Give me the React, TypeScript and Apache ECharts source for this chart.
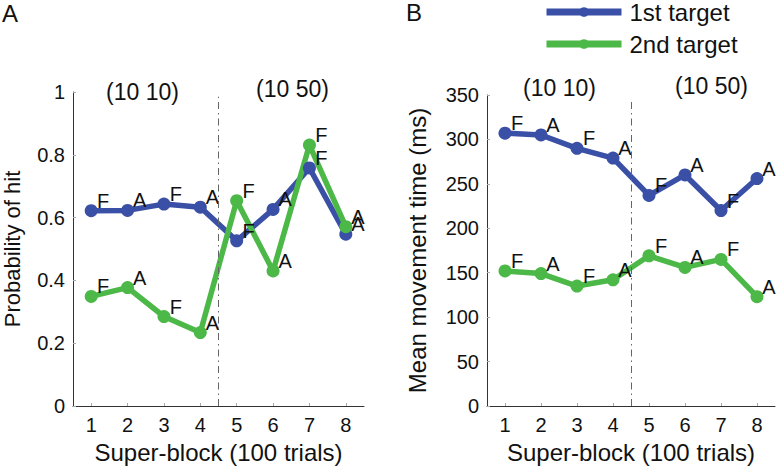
import React, { useEffect, useRef } from "react";
import * as echarts from "echarts";

const blocks = [1, 2, 3, 4, 5, 6, 7, 8];
const pointLabels = ["F", "A", "F", "A", "F", "A", "F", "A"];
const hitFirst = [0.622, 0.623, 0.643, 0.633, 0.526, 0.626, 0.758, 0.547];
const hitSecond = [0.349, 0.377, 0.285, 0.234, 0.654, 0.43, 0.831, 0.571];
const timeFirst = [307, 305, 290, 279, 237, 260, 220, 256];
const timeSecond = [152, 149, 135, 142, 169, 156, 165, 123];
const hitTicks = [0, 0.2, 0.4, 0.6, 0.8, 1];
const timeTicks = [0, 50, 100, 150, 200, 250, 300, 350];
const seriesNames = ["1st target", "2nd target"];

const BLUE = "#3a4fa6";
const GREEN = "#4cb848";
const FONT = "Liberation Sans, Arial, Helvetica, sans-serif";

export default function App() {
  const ref = useRef<HTMLDivElement>(null);
  useEffect(() => {
    if (!ref.current) return;
    const chart = echarts.init(ref.current, undefined, { renderer: "svg" });

    const xAxisBase = (gridIndex: number) => ({
      type: "value",
      gridIndex,
      min: 0.5,
      max: 8.5,
      name: "Super-block (100 trials)",
      nameLocation: "middle",
      nameGap: 34,
      nameTextStyle: { fontSize: 24, color: "#111", fontFamily: FONT },
      axisLine: { show: true, lineStyle: { color: "#333", width: 1 } },
      axisTick: { show: true, inside: true, length: 3, customValues: blocks, lineStyle: { color: "#aaa" } },
      axisLabel: { customValues: blocks, fontSize: 20, color: "#111", fontFamily: FONT, margin: 9 },
      splitLine: { show: false },
    });

    const yAxisBase = (
      gridIndex: number,
      max: number,
      interval: number,
      name: string,
      gap: number,
      nameSize: number,
      formatter: any
    ) => ({
      type: "value",
      gridIndex,
      min: 0,
      max,
      interval,
      name,
      nameLocation: "middle",
      nameGap: gap,
      nameTextStyle: { fontSize: nameSize, color: "#111", fontFamily: FONT },
      axisLine: { show: true, lineStyle: { color: "#333", width: 1 } },
      axisTick: { show: true, inside: true, length: 3, lineStyle: { color: "#aaa" } },
      axisLabel: { fontSize: 20, color: "#111", fontFamily: FONT, margin: 8, formatter },
      splitLine: { show: false },
    });

    const mkSeries = (name: string, color: string, values: number[], xi: number, yi: number, extra: any = {}) => ({
      type: "line",
      name,
      xAxisIndex: xi,
      yAxisIndex: yi,
      data: blocks.map((b, i) => [b, values[i]]),
      symbol: "circle",
      symbolSize: 13,
      lineStyle: { color, width: 5.5 },
      itemStyle: { color },
      label: {
        show: true,
        position: "inside",
        offset: [12, -10],
        fontSize: 20,
        color: "#111",
        fontFamily: FONT,
        formatter: (p: any) => pointLabels[p.dataIndex],
      },
      z: 3,
      ...extra,
    });

    const divider = (top: number) => ({
      silent: true,
      symbol: "none",
      label: { show: false },
      lineStyle: { color: "#666", width: 1, type: [7, 4, 1.5, 4] },
      data: [[{ coord: [4.5, 0] }, { coord: [4.5, top] }]],
    });

    const txt = (left: number, top: number, text: string, size: number) => ({
      type: "text",
      left,
      top,
      style: { text, fontSize: size, fill: "#111", fontFamily: FONT },
    });

    chart.setOption({
      animation: false,
      backgroundColor: "#fff",
      textStyle: { fontFamily: FONT },
      grid: [
        { left: 70, top: 92, width: 294, height: 318 },
        { left: 487, top: 95, width: 288, height: 316 },
      ],
      xAxis: [xAxisBase(0), xAxisBase(1)],
      yAxis: [
        yAxisBase(0, 1, 0.2, "Probability of hit", 50, 22, (v: number) =>
          hitTicks.includes(+v.toFixed(1)) ? String(+v.toFixed(1)) : ""
        ),
        yAxisBase(1, 350, 50, "Mean movement time (ms)", 58, 24, (v: number) =>
          timeTicks.includes(v) ? String(v) : ""
        ),
      ],
      legend: {
        left: 543,
        top: 0,
        padding: 0,
        orient: "vertical",
        itemWidth: 75,
        itemHeight: 12,
        itemGap: 8,
        lineStyle: { width: 7 },
        data: seriesNames,
        textStyle: { fontSize: 24, color: "#111", fontFamily: FONT, padding: [0, 0, 0, 3] },
      },
      series: [
        mkSeries(seriesNames[0], BLUE, hitFirst, 0, 0, { markLine: divider(0.985) }),
        mkSeries(seriesNames[1], GREEN, hitSecond, 0, 0),
        mkSeries(seriesNames[0], BLUE, timeFirst, 1, 1, { markLine: divider(346) }),
        mkSeries(seriesNames[1], GREEN, timeSecond, 1, 1),
      ],
      graphic: [
        txt(2, 1, "A", 24),
        txt(406, 0, "B", 24),
        txt(106, 80, "(10 10)", 23),
        txt(256, 77, "(10 50)", 23),
        txt(523, 76, "(10 10)", 23),
        txt(675, 74, "(10 50)", 23),
      ],
    });
    return () => chart.dispose();
  }, []);
  return <div ref={ref} style={{ position: "fixed", left: 0, top: 0, width: 776, height: 469 }} />;
}
